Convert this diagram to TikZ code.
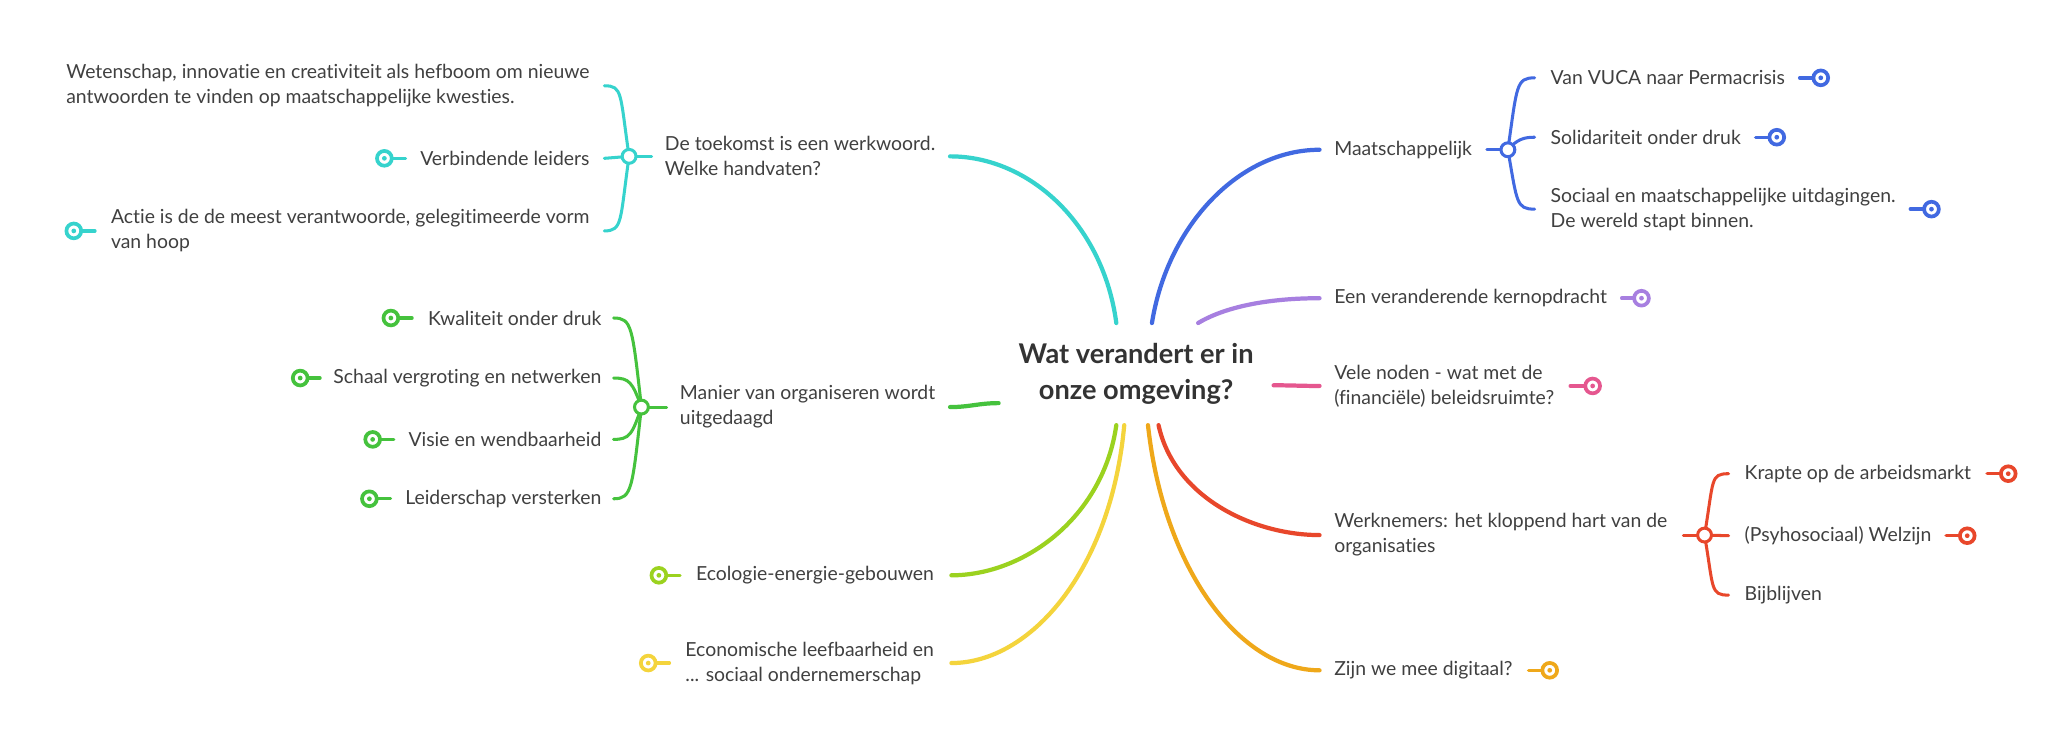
\documentclass[tikz,border=0pt]{standalone}
\usepackage{fontspec}
\setmainfont{Lato}[Ligatures=CommonOff]
\usetikzlibrary{calc}
\definecolor{cTurq}{HTML}{36D3CD}
\definecolor{cBlue}{HTML}{4169E1}
\definecolor{cLila}{HTML}{A77FE0}
\definecolor{cRose}{HTML}{E5578F}
\definecolor{cRed}{HTML}{E8472B}
\definecolor{cOrange}{HTML}{EFA81A}
\definecolor{cYellow}{HTML}{F4D43C}
\definecolor{cLime}{HTML}{9BD21F}
\definecolor{cGreen}{HTML}{45C23D}
\definecolor{cText}{HTML}{404040}
\tikzset{
	topic/.style={inner sep=0pt, align=left, text=cText, font=\fontsize{14.7}{19}\selectfont},
	root/.style={inner sep=0pt, minimum width=208pt, minimum height=77pt, align=center, text=black!80, font=\fontsize{20.6}{27}\selectfont\bfseries},
	branch/.style={line width=3.2pt, line cap=round},
	twig/.style={line width=2.3pt, line cap=round},
	junction/.style={circle, draw, fill=white, line width=2.3pt, inner sep=0pt, minimum size=10.5pt},
}
\def\knob[#1](#2)(#3){\draw[twig, line width=2.6pt, #1] (#2) -- (#3); \draw[#1, line width=2.8pt, fill=white] (#2) circle (5.6pt); \fill[#1] (#2) circle (1.8pt);}

\begin{document}
\begin{tikzpicture}[x=1pt, y=-1pt]
			%%%%% START %%%%%
			
			\fill[white] (0,0) rectangle (1568,569);
			\useasboundingbox (0,0) rectangle (1568,569);
			
			\node[root] (root) at (861,283.5) {Wat verandert er in\\onze omgeving?};
			
			%% left side
			\node[topic, anchor=east] (toek) at (709,118.5) {De toekomst is een werkwoord.\\Welke handvaten?};
			\node[topic, anchor=east] (wet) at (447,65) {Wetenschap, innovatie en creativiteit als hefboom om nieuwe\\antwoorden te vinden op maatschappelijke kwesties.};
			\node[topic, anchor=east] (verb) at (447,120) {Verbindende leiders};
			\node[topic, anchor=east] (actie) at (447,175) {Actie is de de meest verantwoorde, gelegitimeerde vorm\\van hoop};
			
			\node[topic, anchor=east] (manier) at (709,308.5) {Manier van organiseren wordt\\uitgedaagd};
			\node[topic, anchor=east] (kwal) at (456,241) {Kwaliteit onder druk};
			\node[topic, anchor=east] (schaal) at (456,286.5) {Schaal vergroting en netwerken};
			\node[topic, anchor=east] (visie) at (456,333) {Visie en wendbaarheid};
			\node[topic, anchor=east] (leider) at (456,378) {Leiderschap versterken};
			
			\node[topic, anchor=east] (eco) at (708,436) {Ecologie-energie-gebouwen};
			\node[topic, anchor=east] (econ) at (708,502.5) {Economische leefbaarheid en\\... sociaal ondernemerschap};
			
			%% right side
			\node[topic, anchor=west] (maat) at (1011,113.5) {Maatschappelijk};
			\node[topic, anchor=west] (vuca) at (1175,59) {Van VUCA naar Permacrisis};
			\node[topic, anchor=west] (soli) at (1175,104) {Solidariteit onder druk};
			\node[topic, anchor=west] (soc) at (1175,158.5) {Sociaal en maatschappelijke uitdagingen.\\De wereld stapt binnen.};
			
			\node[topic, anchor=west] (kern) at (1011,226) {Een veranderende kernopdracht};
			\node[topic, anchor=west] (noden) at (1011,292.5) {Vele noden - wat met de\\(financiële) beleidsruimte?};
			
			\node[topic, anchor=west] (werk) at (1011,405.5) {Werknemers: het kloppend hart van de\\organisaties};
			\node[topic, anchor=west] (krap) at (1322,359) {Krapte op de arbeidsmarkt};
			\node[topic, anchor=west] (welz) at (1322,406) {(Psyhosociaal) Welzijn};
			\node[topic, anchor=west] (bijb) at (1322,451) {Bijblijven};
			
			\node[topic, anchor=west] (digi) at (1011,508) {Zijn we mee digitaal?};
			
			%% main branches
			\draw[branch, cTurq] ([xshift=-15]root.north) .. controls +(-10,-75) and +(60,0) .. ([xshift=11]toek.east);
			\draw[branch, cBlue] ([xshift=12]root.north) .. controls +(12,-75) and +(-60,0) .. ([xshift=-11]maat.west);
			\draw[branch, cLila] ([xshift=47]root.north) .. controls +(20,-12) and +(-40,0) .. ([xshift=-11]kern.west);
			\draw[branch, cRose] ([yshift=-8.5]root.east) .. controls +(15,0) and +(-15,0) .. ([xshift=-11]noden.west);
			\draw[branch, cRed] ([xshift=17]root.south) .. controls +(12,55) and +(-50,0) .. ([xshift=-11]werk.west);
			\draw[branch, cOrange] ([xshift=9]root.south) .. controls +(12,110) and +(-60,0) .. ([xshift=-11]digi.west);
			\draw[branch, cYellow] ([xshift=-9]root.south) .. controls +(-10,110) and +(60,0) .. ([xshift=13]econ.east);
			\draw[branch, cLime] ([xshift=-15]root.south) .. controls +(-10,70) and +(55,0) .. ([xshift=13]eco.east);
			\draw[branch, cGreen] ([yshift=-22]root.west) .. controls +(-15,0) and +(15,0) .. ([xshift=11]manier.east);
			
			%% brackets
			\coordinate (jT) at ([xshift=-27]toek.west);
			\draw[twig, cTurq] ([xshift=-10]toek.west) -- (jT);
			\draw[twig, cTurq] (jT) .. controls +(-7,-48) and +(14,0) .. ([xshift=11]wet.east);
			\draw[twig, cTurq] (jT) -- ([xshift=11]verb.east);
			\draw[twig, cTurq] (jT) .. controls +(-7,49) and +(14,0) .. ([xshift=11]actie.east);
			
			\coordinate (jM) at ([xshift=-29]manier.west);
			\draw[twig, cGreen] ([xshift=-10]manier.west) -- (jM);
			\draw[twig, cGreen] (jM) .. controls +(-7,-61) and +(14,0) .. ([xshift=9]kwal.east);
			\draw[twig, cGreen] (jM) .. controls +(-7,-19) and +(12,0) .. ([xshift=9]schaal.east);
			\draw[twig, cGreen] (jM) .. controls +(-7,21) and +(12,0) .. ([xshift=9]visie.east);
			\draw[twig, cGreen] (jM) .. controls +(-7,62) and +(14,0) .. ([xshift=9]leider.east);
			
			\coordinate (jB) at ([xshift=27]maat.east);
			\draw[twig, cBlue] ([xshift=11]maat.east) -- (jB);
			\draw[twig, cBlue] (jB) .. controls +(7,-49) and +(-14,0) .. ([xshift=-12]vuca.west);
			\draw[twig, cBlue] (jB) .. controls +(7,-8) and +(-8,0) .. ([xshift=-12]soli.west);
			\draw[twig, cBlue] (jB) .. controls +(7,40) and +(-14,0) .. ([xshift=-12]soc.west);
			
			\coordinate (jR) at ([xshift=28]werk.east);
			\draw[twig, cRed] ([xshift=12]werk.east) -- (jR);
			\draw[twig, cRed] (jR) .. controls +(7,-42) and +(-14,0) .. ([xshift=-12]krap.west);
			\draw[twig, cRed] (jR) -- ([xshift=-12]welz.west);
			\draw[twig, cRed] (jR) .. controls +(7,41) and +(-14,0) .. ([xshift=-12]bijb.west);
			
			\node[junction, draw=cTurq] at (jT) {};
			\node[junction, draw=cGreen] at (jM) {};
			\node[junction, draw=cBlue] at (jB) {};
			\node[junction, draw=cRed] at (jR) {};
			
			%% collapsed markers
			\knob[cTurq]([xshift=-27]verb.west)([xshift=-11]verb.west)
			\knob[cTurq]([xshift=-28]actie.west)([xshift=-12]actie.west)
			\knob[cGreen]([xshift=-28]kwal.west)([xshift=-12]kwal.west)
			\knob[cGreen]([xshift=-25]schaal.west)([xshift=-10]schaal.west)
			\knob[cGreen]([xshift=-27]visie.west)([xshift=-11]visie.west)
			\knob[cGreen]([xshift=-27]leider.west)([xshift=-11]leider.west)
			\knob[cLime]([xshift=-28]eco.west)([xshift=-12]eco.west)
			\knob[cYellow]([xshift=-28]econ.west)([xshift=-12]econ.west)
			\knob[cBlue]([xshift=27]vuca.east)([xshift=11]vuca.east)
			\knob[cBlue]([xshift=27]soli.east)([xshift=11]soli.east)
			\knob[cBlue]([xshift=27]soc.east)([xshift=11]soc.east)
			\knob[cLila]([xshift=26]kern.east)([xshift=11]kern.east)
			\knob[cRose]([xshift=29]noden.east)([xshift=12]noden.east)
			\knob[cRed]([xshift=28]krap.east)([xshift=12]krap.east)
			\knob[cRed]([xshift=27]welz.east)([xshift=11]welz.east)
			\knob[cOrange]([xshift=28]digi.east)([xshift=12]digi.east)
			
			%%%%% END %%%%%
\end{tikzpicture}
\end{document}
